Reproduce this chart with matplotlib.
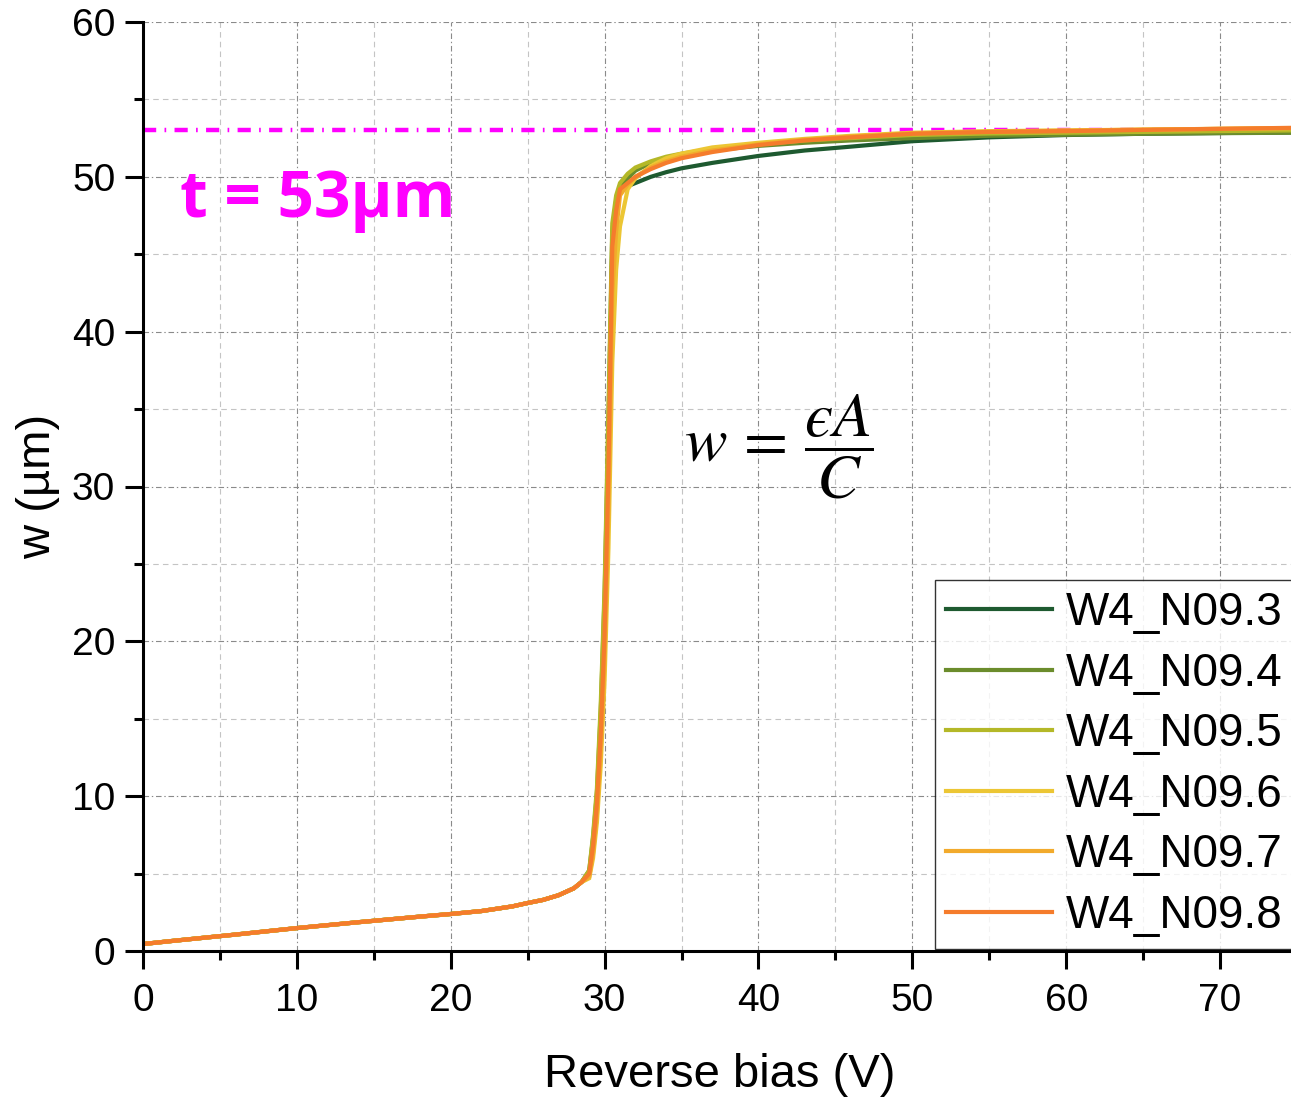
import matplotlib
matplotlib.use('Agg')
import matplotlib.pyplot as plt
from matplotlib.ticker import MultipleLocator

plt.rcParams['font.family'] = ['Liberation Sans', 'DejaVu Sans']
plt.rcParams['mathtext.fontset'] = 'stix'
plt.rcParams['lines.scale_dashes'] = False

# Reverse bias (V) and depletion width w (um)
# below ~28.5 V all six samples overlap
v_low = [0, 2, 4, 6, 8, 10, 12, 14, 16, 18, 20, 22, 24, 25, 26, 27, 28, 28.5]
w_low = [0.45, 0.66, 0.86, 1.06, 1.27, 1.48, 1.67, 1.86, 2.04, 2.22, 2.39,
         2.58, 2.88, 3.10, 3.30, 3.60, 4.05, 4.45]

v_high = [29, 29.25, 29.5, 29.75, 30, 30.25, 30.5, 30.75, 31, 31.5, 32, 33, 34,
          35, 37, 40, 43, 46, 50, 55, 60, 65, 70, 75]

w_n093 = [5.0, 6.8, 9.5, 14.5, 21.0, 32.0, 45.5, 47.8, 49.1, 49.4, 49.6, 50.0,
          50.3, 50.55, 50.9, 51.35, 51.7, 51.95, 52.3, 52.55, 52.7, 52.78, 52.83, 52.87]
w_n094 = [5.2, 7.3, 10.2, 15.5, 23.0, 34.0, 46.5, 48.5, 49.3, 49.9, 50.4, 50.9,
          51.2, 51.4, 51.7, 52.0, 52.2, 52.35, 52.5, 52.65, 52.72, 52.78, 52.82, 52.85]
w_n095 = [5.2, 7.5, 10.5, 16.0, 23.5, 35.0, 47.0, 48.8, 49.6, 50.2, 50.6, 51.0,
          51.3, 51.5, 51.8, 52.1, 52.35, 52.5, 52.7, 52.8, 52.85, 52.9, 52.95, 53.0]
w_n096 = [4.7, 6.0, 8.3, 12.0, 17.5, 26.0, 38.0, 44.0, 46.8, 49.2, 49.9, 50.7,
          51.2, 51.5, 51.9, 52.2, 52.45, 52.65, 52.85, 52.95, 53.0, 53.05, 53.1, 53.15]
w_n097 = [4.8, 6.3, 8.8, 13.0, 19.0, 28.5, 42.5, 46.5, 48.8, 49.5, 50.0, 50.6,
          51.0, 51.3, 51.7, 52.1, 52.4, 52.6, 52.8, 52.92, 52.98, 53.05, 53.1, 53.15]
w_n098 = [5.0, 6.8, 9.5, 14.0, 20.5, 31.0, 45.5, 47.8, 49.2, 49.6, 50.0, 50.5,
          50.9, 51.2, 51.6, 52.05, 52.35, 52.55, 52.78, 52.9, 52.95, 53.03, 53.1, 53.17]

labels = ['W4_N09.3', 'W4_N09.4', 'W4_N09.5', 'W4_N09.6', 'W4_N09.7', 'W4_N09.8']
series = [w_n093, w_n094, w_n095, w_n096, w_n097, w_n098]
colors = ['#1E5A30', '#6B8C2C', '#B4B828', '#ECC634', '#F2AA2C', '#F57C2C']

thickness = 53

fig = plt.figure(figsize=(12.91, 10.97), dpi=100)
ax = fig.add_axes([143/1291, 146/1097, 1148/1291, 929/1097])

for w_hi, lab, col in zip(series, labels, colors):
    ax.plot(v_low + v_high, w_low + w_hi, color=col, lw=3.0, label=lab,
            solid_joinstyle='miter')

ax.axhline(thickness, color='#FF00FF', lw=3.2,
           linestyle=(0, (9.5, 6.0, 1.2, 6.0)), zorder=1)

ax.text(2.4, 47.4, 't = 53\u00b5m', color='#FF00FF', fontsize=46,
        fontweight='bold', family='Open Sans', va='baseline', ha='left')

ax.text(41.3, 32.6, '$w\\,=\\,\\dfrac{\u03f5A}{C}$', fontsize=46,
        ha='center', va='center')

ax.set_xlim(0, 74.61)
ax.set_ylim(0, 60)
ax.xaxis.set_major_locator(MultipleLocator(10))
ax.xaxis.set_minor_locator(MultipleLocator(5))
ax.yaxis.set_major_locator(MultipleLocator(10))
ax.yaxis.set_minor_locator(MultipleLocator(5))

ax.grid(which='major', color='#8a8a8a', lw=0.8, linestyle=(0, (4, 2, 1, 2)))
ax.grid(which='minor', color='#c4c4c4', lw=0.8, linestyle=(0, (4, 3)))
ax.set_axisbelow(True)

for side in ['top', 'right']:
    ax.spines[side].set_visible(False)
for side in ['left', 'bottom']:
    ax.spines[side].set_linewidth(2.2)

ax.tick_params(which='major', direction='out', length=13, width=2.2,
               labelsize=28, pad=7)
ax.tick_params(axis='x', which='major', pad=10)
ax.tick_params(which='minor', direction='out', length=6.5, width=2.2)

ax.set_xlabel('Reverse bias (V)', fontsize=34)
ax.set_ylabel('w (\u00b5m)', fontsize=34)
ax.xaxis.set_label_coords(0.502, -0.11)
ax.yaxis.set_label_coords(-0.072, 0.5)

leg = ax.legend(loc='upper left', bbox_to_anchor=(935/1291, 1 - 580/1097),
                bbox_transform=fig.transFigure, fontsize=33, frameon=True,
                fancybox=False, edgecolor='black', borderaxespad=0,
                borderpad=0.25, handlelength=2.3, handletextpad=0.3,
                labelspacing=0.36)
leg.get_frame().set_linewidth(1.0)
for line in leg.get_lines():
    line.set_linewidth(3.0)

plt.savefig('out.png', dpi=100)
